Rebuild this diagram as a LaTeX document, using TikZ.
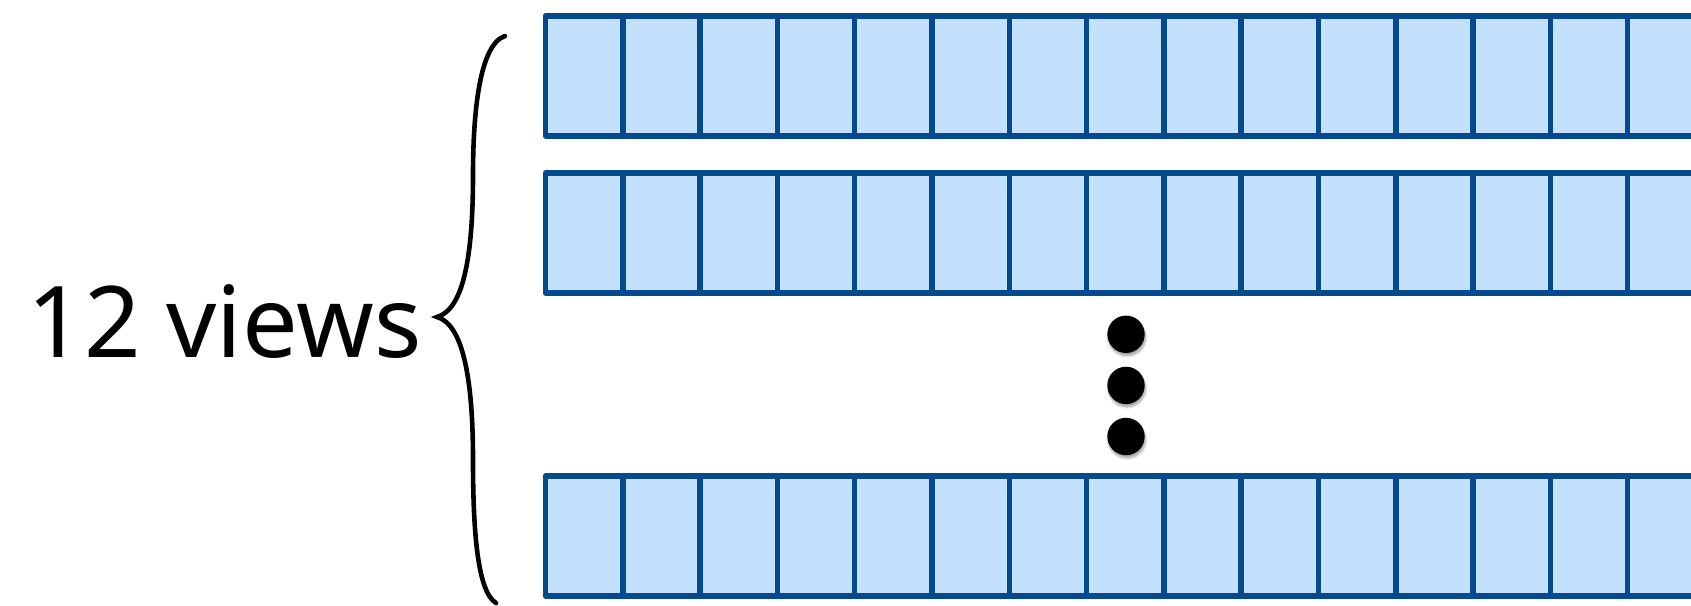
\documentclass[tikz,border=0pt]{standalone}
\usepackage{fontspec}
\setmainfont{Noto Sans}
\usetikzlibrary{positioning, shadows.blur}
\definecolor{cellfill}{HTML}{C3E1FC}
\definecolor{celledge}{HTML}{064A8E}
\tikzset{
  cell/.style={draw=celledge, fill=cellfill, line width=5.5pt, line join=round,
    minimum width=77.3pt, minimum height=120pt, inner sep=0pt, outer sep=0pt, anchor=north west},
  vdot/.style={circle, fill=black, minimum size=37.4pt, inner sep=0pt,
    blur shadow={shadow xshift=1pt, shadow yshift=-3pt, shadow blur steps=6, shadow opacity=35}},
  bracket/.style={draw=black, line width=4.6pt, line cap=round},
  label/.style={font=\fontsize{99}{120}\selectfont, inner sep=0pt, anchor=base west},
}
\begin{document}
\begin{tikzpicture}[x=1pt, y=-1pt]
  \path[use as bounding box, clip] (0,0) rectangle (1691,605);

  % the view rows
  \foreach \r/\top in {1/15.8, 2/173, 3/476}
    \foreach \c in {1,...,15}
      \node[cell] (r\r c\c) at ({545.5+77.3*(\c-1)}, \top) {};

  % dots between rows
  \node[vdot] (dot1) at (1126,334.3) {};
  \node[vdot, below=13.3pt of dot1] (dot2) {};
  \node[vdot, below=13.3pt of dot2] (dot3) {};

  % label and brace
  \node[label] (views) at (27.5,357) {12 views};
  \draw[bracket] (505,36) .. controls (478,45) and (473,120) .. (473,175)
    .. controls (473,262) and (462,310) .. (437,317)
    .. controls (462,324) and (473,375) .. (473,460)
    .. controls (473,535) and (478,592) .. (496,603);
\end{tikzpicture}
\end{document}
